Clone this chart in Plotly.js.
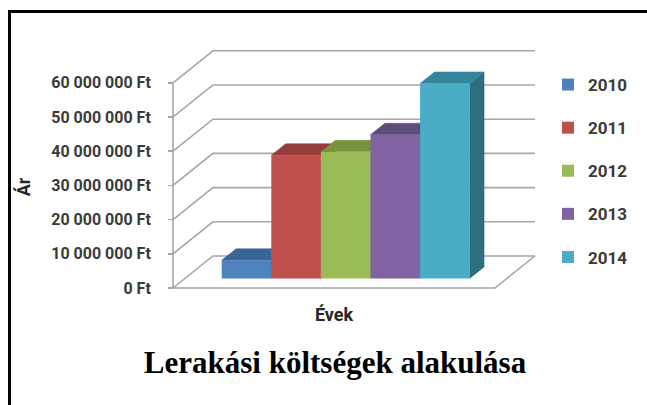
<!DOCTYPE html>
<html><head><meta charset="utf-8">
<script src="https://cdn.plot.ly/plotly-3.0.1.min.js"></script>
<style>html,body{margin:0;padding:0;background:#fff;overflow:hidden;} #chart{width:647px;height:405px;}</style>
</head><body><div id="chart"></div>
<script>
// ---- data ----
const years = ['2010', '2011', '2012', '2013', '2014'];
const costs = [5300000, 36000000, 37000000, 42000000, 57000000];
const yTicks = [0, 10000000, 20000000, 30000000, 40000000, 50000000, 60000000];
const yTickLabels = ['0 Ft', '10 000 000 Ft', '20 000 000 Ft', '30 000 000 Ft', '40 000 000 Ft', '50 000 000 Ft', '60 000 000 Ft'];
const frontColors = ['#4f81bd', '#c0504d', '#9bbb59', '#8064a2', '#4bacc6'];
const topColors = ['#3c6597', '#943d3b', '#77933d', '#5f4b7c', '#33869b'];
const sideColors = ['#345a88', '#843432', '#6a8435', '#54436d', '#2f6e7e'];

// ---- geometry (layout, not data) ----
const W = 647, H = 405, L = 131, R = 537, T = 40, B = 334;
const xRange = [-2.087, 6.099];
const yRange = [-13450000, 72510000];
const DX = 0.806, DY = 9357000;       // full depth vector of the 3D box (data units)
const F0 = 0.30, F1 = 0.66;            // bar depth start / end fractions
const xAxisFront = -1.24, xFloorRight = 5.252;
const gridColor = '#a6a6a6';
const pxX = p => (p - L) / (R - L);
const pxY = p => (B - p) / (B - T);

const shapes = [];
// back-wall gridlines (diagonal from front tick + horizontal along back wall)
yTicks.forEach(v => {
  shapes.push({type: 'path', layer: 'below', xref: 'x', yref: 'y',
    path: `M ${xAxisFront},${v} L ${xAxisFront + DX},${v + DY} L ${xFloorRight + DX},${v + DY}`,
    line: {color: gridColor, width: 1.6}});
});
// front vertical axis line
shapes.push({type: 'line', layer: 'below', xref: 'x', yref: 'y',
  x0: xAxisFront, x1: xAxisFront, y0: yTicks[0], y1: yTicks[yTicks.length - 1],
  line: {color: gridColor, width: 1.6}});
// floor front + right edge
shapes.push({type: 'path', layer: 'below', xref: 'x', yref: 'y',
  path: `M ${xAxisFront},0 L ${xFloorRight},0 L ${xFloorRight + DX},${DY}`,
  line: {color: gridColor, width: 1.6}});
// chart frame (top and left border only)
shapes.push({type: 'line', xref: 'paper', yref: 'paper', x0: pxX(9.5), x1: pxX(9.5), y0: pxY(10), y1: pxY(405), line: {color: '#000', width: 3}});
shapes.push({type: 'line', xref: 'paper', yref: 'paper', x0: pxX(8), x1: pxX(647), y0: pxY(11.5), y1: pxY(11.5), line: {color: '#000', width: 3}});

const traces = [];
const bdx = (F1 - F0) * DX, bdy = (F1 - F0) * DY;
// side and top faces (main subplot)
costs.forEach((v, i) => {
  const x0 = i - 0.5 + F0 * DX, x1 = i + 0.5 + F0 * DX;
  const y0 = F0 * DY, yt = v + F0 * DY;
  traces.push({type: 'scatter', mode: 'lines', fill: 'toself', hoverinfo: 'skip', showlegend: false,
    x: [x1, x1 + bdx, x1 + bdx, x1, x1], y: [y0, y0 + bdy, yt + bdy, yt, y0],
    fillcolor: sideColors[i], line: {color: sideColors[i], width: 0.5}, xaxis: 'x', yaxis: 'y'});
  traces.push({type: 'scatter', mode: 'lines', fill: 'toself', hoverinfo: 'skip', showlegend: false,
    x: [x0, x1, x1 + bdx, x0 + bdx, x0], y: [yt, yt, yt + bdy, yt + bdy, yt],
    fillcolor: topColors[i], line: {color: topColors[i], width: 0.5}, xaxis: 'x', yaxis: 'y'});
});
// front faces as bars (overlaid subplot, drawn on top)
costs.forEach((v, i) => {
  traces.push({type: 'bar', name: years[i], legendgroup: years[i],
    x: [i + F0 * DX], y: [v], base: [F0 * DY], width: [1],
    marker: {color: frontColors[i], line: {width: 0}}, xaxis: 'x2', yaxis: 'y2'});
});

const sans = 'Roboto, Arial, sans-serif';
const layout = {
  width: W, height: H,
  margin: {l: L, r: W - R, t: T, b: H - B},
  paper_bgcolor: '#fff', plot_bgcolor: 'rgba(0,0,0,0)',
  barmode: 'overlay',
  showlegend: true,
  title: {text: 'Lerakási költségek alakulása',
    font: {family: 'Liberation Serif, Times New Roman, serif', size: 31, color: '#000', weight: 'bold'},
    x: 335 / W, xref: 'container', xanchor: 'center', y: 1 - 362 / H, yref: 'container', yanchor: 'middle'},
  xaxis: {range: xRange, anchor: 'free', position: pxY(300), showticklabels: false, showgrid: false, zeroline: false, showline: false, ticks: '',
    title: {text: 'Évek', font: {family: sans, size: 18, color: '#262626', weight: 'bold'}, standoff: 8}},
  yaxis: {range: yRange, anchor: 'free', position: pxX(173), tickvals: yTicks, ticktext: yTickLabels,
    ticks: 'outside', ticklen: 5, tickwidth: 1.6, tickcolor: gridColor, ticklabelstandoff: 14,
    showgrid: false, zeroline: false, showline: false,
    tickfont: {family: sans, size: 16, color: '#3a3a3a', weight: 'bold'},
    title: {text: 'Ár', font: {family: sans, size: 18, color: '#262626', weight: 'bold'}, standoff: 14}},
  xaxis2: {range: xRange, overlaying: 'x', anchor: 'y2', visible: false},
  yaxis2: {range: yRange, overlaying: 'y', anchor: 'x2', visible: false},
  legend: {x: pxX(548), xanchor: 'left', y: pxY(67), yanchor: 'top', traceorder: 'grouped', tracegroupgap: 18,
    bgcolor: 'rgba(0,0,0,0)', font: {family: sans, size: 17, color: '#3a3a3a', weight: 'bold'}},
  shapes: shapes
};
Plotly.newPlot('chart', traces, layout, {staticPlot: true, displayModeBar: false});
</script></body></html>
